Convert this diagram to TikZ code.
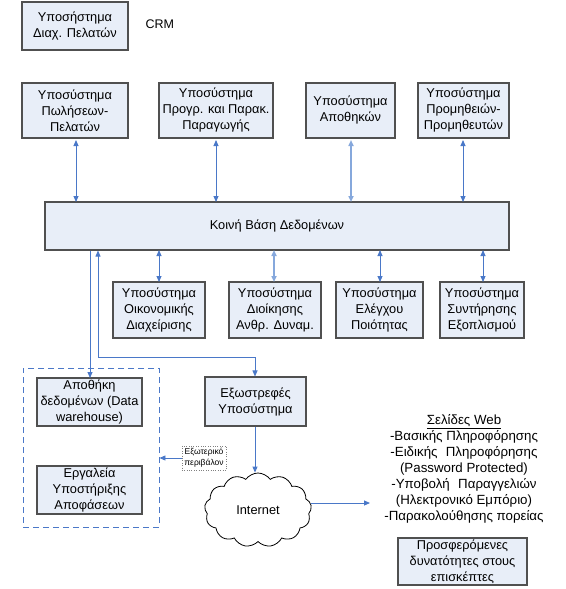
\documentclass[tikz,border=0pt]{standalone}
\usepackage{fontspec}
\setmainfont{Liberation Sans}
\usetikzlibrary{arrows.meta,shapes.symbols}
\definecolor{boxfill}{HTML}{E8EEF8}
\definecolor{boxline}{HTML}{505050}
\definecolor{arrblue}{HTML}{4A78C8}
\definecolor{arrlight}{HTML}{86A8DC}
\tikzset{
  sysbox/.style={draw=boxline, line width=1.1pt, fill=boxfill, align=center,
    inner sep=0pt, font=\fontsize{12.8}{16}\selectfont},
  link/.style={draw=arrblue, line width=0.9pt, {Triangle[width=5pt,length=6pt]}-{Triangle[width=5pt,length=6pt]}},
  linklight/.style={link, draw=arrlight, line width=1.6pt},
  oneway/.style={draw=arrblue, line width=0.9pt, -{Triangle[width=5pt,length=6pt]}},
}
\begin{document}
\begin{tikzpicture}[x=1pt,y=-1pt]
\useasboundingbox (0,0) rectangle (565,589);
% top CRM box
\node[sysbox, minimum width=106pt, minimum height=48pt] (crm) at (75,26) {Υποσήστημα\\Διαχ. Πελατών};
\node[font=\fontsize{12.5}{15}\selectfont, anchor=west] (crmlbl) at (142,24) {CRM};
% first row
\node[sysbox, minimum width=106pt, minimum height=55pt] (sales) at (75,110.5) {Υποσύστημα\\Πωλήσεων-\\Πελατών};
\node[sysbox, minimum width=114pt, minimum height=55pt] (prod) at (216,110.5) {Υποσύστημα\\Προγρ. και Παρακ.\\Παραγωγής};
\node[sysbox, minimum width=89pt, minimum height=55pt] (store) at (350.5,110.5) {Υποσύστημα\\Αποθηκών};
\node[sysbox, minimum width=91pt, minimum height=55pt] (supply) at (463.5,110.5) {Υποσύστημα\\Προμηθειών-\\Προμηθευτών};
% database
\node[sysbox, minimum width=464pt, minimum height=48pt] (db) at (277,226) {Κοινή Βάση Δεδομένων};
% second row
\node[sysbox, minimum width=92pt, minimum height=56pt] (fin) at (159,310) {Υποσύστημα\\Οικονομικής\\Διαχείρισης};
\node[sysbox, minimum width=92pt, minimum height=56pt] (hr) at (275,310) {Υποσύστημα\\Διοίκησης\\Ανθρ. Δυναμ.};
\node[sysbox, minimum width=87pt, minimum height=56pt] (qc) at (379.5,310) {Υποσύστημα\\Ελέγχου\\Ποιότητας};
\node[sysbox, minimum width=84pt, minimum height=56pt] (maint) at (482,310) {Υποσύστημα\\Συντήρησης\\Εξοπλισμού};
% arrows top row
\draw[link] (76,140) -- (76,202);
\draw[link] (216,140) -- (216,202);
\draw[linklight] (351,140) -- (351,202);
\draw[link] (463,140) -- (463,202);
% arrows bottom row
\draw[link] (159,250) -- (159,282);
\draw[linklight] (274,250) -- (274,282);
\draw[link] (380,250) -- (380,282);
\draw[link] (483,250) -- (483,282);
% decision support group
\node[draw=arrblue, dash pattern=on 6pt off 4pt, line width=0.9pt, minimum width=136pt, minimum height=159pt, inner sep=0pt] (grp) at (91,447.5) {};
\node[sysbox, minimum width=105pt, minimum height=48pt] (dw) at (89.5,402) {Αποθήκη\\δεδομένων (Data\\warehouse)};
\node[sysbox, minimum width=105pt, minimum height=48pt] (dss) at (89.5,490) {Εργαλεία\\Υποστήριξης\\Αποφάσεων};
% external subsystem
\node[sysbox, minimum width=101pt, minimum height=49pt] (ext) at (255.5,401.5) {Εξωστρεφές\\Υποσύστημα};
% cloud
\node[cloud, cloud puffs=13, cloud puff arc=110, aspect=1.4, draw=black, line width=0.8pt, fill=white,
  minimum width=107pt, minimum height=74pt, inner sep=0pt, font=\fontsize{12.8}{15}\selectfont] (net) at (258,510) {Internet};
% external environment label
\node[draw=black!50, dotted, line width=0.4pt, align=center, inner sep=2.5pt,
  font=\fontsize{8.5}{11}\selectfont] (env) at (204,458) {Εξωτερικό\\περιβάλον};
% web pages text
\node[align=center, anchor=north, inner sep=0pt, font=\fontsize{13.3}{16}\selectfont] (web) at (464,414)
  {\underline{Σελίδες Web}\\-Βασικής Πληροφόρησης\\-Ειδικής\hspace{0.35em} Πληροφόρησης\\(Password Protected)\\-Υποβολή\hspace{0.35em} Παραγγελιών\\(Ηλεκτρονικό Εμπόριο)\\-Παρακολούθησης πορείας};
\node[sysbox, minimum width=129pt, minimum height=47pt] (vis) at (462.5,561.5) {Προσφερόμενες\\δυνατότητες στους\\επισκέπτες};
% connectors
\coordinate (dwtop) at (90,378);
\draw[oneway] (db.south -| dwtop) -- (dwtop);
\coordinate (bend1) at (98,357);
\coordinate (bend2) at (255,357);
\draw[link] (db.south -| bend1) -- (bend1) -- (bend2) -- (ext.north -| bend2);
\draw[oneway] (ext.south -| bend2) -- (net.north -| bend2);
\coordinate (webin) at (370,503);
\draw[oneway] (net.east |- webin) -- (webin);
\draw[oneway] (env.west) -- (grp.east |- env.west);
\end{tikzpicture}
\end{document}
